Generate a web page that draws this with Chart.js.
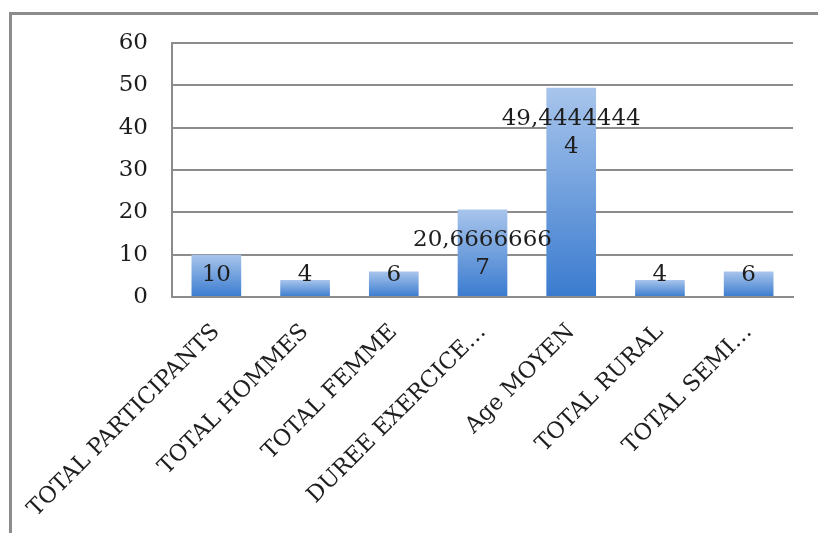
<!DOCTYPE html>
<html>
<head>
<meta charset="utf-8">
<script src="https://cdn.jsdelivr.net/npm/chart.js@4/dist/chart.umd.min.js"></script>
<style>
  html, body { margin: 0; padding: 0; background: #fff; overflow: hidden; }
  canvas { display: block; }
</style>
</head>
<body>
<canvas id="chart" width="818" height="533"></canvas>
<script>
// categories and values
const categories = ['TOTAL PARTICIPANTS', 'TOTAL HOMMES', 'TOTAL FEMME', 'DUREE EXERCICE…', 'Age MOYEN', 'TOTAL RURAL', 'TOTAL SEMI…'];
const values = [10, 4, 6, 20.66666667, 49.44444444, 4, 6];
const yTicks = [0, 10, 20, 30, 40, 50, 60];

const serif = '"DejaVu Serif", "Liberation Serif", serif';
const textColor = '#1e1e1e';
const gridColor = '#8c8c8c';

// excel-like label: comma decimal, wrapped every 10 chars
function labelLines(v) {
  const s = String(v).replace('.', ',');
  const lines = [];
  for (let i = 0; i < s.length; i += 10) lines.push(s.slice(i, i + 10));
  return lines;
}

// grey chart frame, only its left and top edges are visible
const frame = {
  id: 'frame',
  beforeDraw(chart) {
    const ctx = chart.ctx;
    ctx.save();
    ctx.fillStyle = gridColor;
    ctx.fillRect(9, 12, 3, chart.height);
    ctx.fillRect(9, 12, chart.width, 3);
    ctx.restore();
  }
};

const barLabels = {
  id: 'barLabels',
  afterDatasetsDraw(chart) {
    const ctx = chart.ctx;
    const meta = chart.getDatasetMeta(0);
    ctx.save();
    ctx.font = '23px ' + serif;
    ctx.fillStyle = textColor;
    ctx.textAlign = 'center';
    ctx.textBaseline = 'middle';
    const lh = 28;
    meta.data.forEach((bar, i) => {
      const lines = labelLines(values[i]);
      let first = bar.y + 31;
      const last = first + (lines.length - 1) * lh;
      if (last > bar.base - 21) first -= last - (bar.base - 21);
      lines.forEach((t, k) => ctx.fillText(t, bar.x, first + k * lh));
    });
    ctx.restore();
  }
};

new Chart(document.getElementById('chart'), {
  type: 'bar',
  data: {
    labels: categories,
    datasets: [{
      data: values,
      backgroundColor: (c) => {
        const chart = c.chart;
        if (!chart.chartArea || c.dataIndex === undefined) return '#7aa3dd';
        const y = chart.scales.y;
        const top = y.getPixelForValue(values[c.dataIndex]);
        const base = y.getPixelForValue(0);
        const g = chart.ctx.createLinearGradient(0, top, 0, base);
        g.addColorStop(0, '#a8c5ec');
        g.addColorStop(1, '#3a7bcf');
        return g;
      },
      borderWidth: 0,
      barPercentage: 0.56,
      categoryPercentage: 1
    }]
  },
  options: {
    responsive: false,
    animation: false,
    layout: { padding: { top: 43, right: 25, left: 0, bottom: 0 } },
    plugins: { legend: { display: false }, tooltip: { enabled: false } },
    scales: {
      x: {
        grid: { display: false, drawTicks: false },
        border: { display: true, color: gridColor, width: 2 },
        ticks: {
          color: textColor,
          font: { family: serif, size: 22.5 },
          minRotation: 45,
          maxRotation: 45,
          autoSkip: false,
          padding: 22
        },
        afterFit: (s) => { s.height = 236; s.paddingLeft = 0; s.paddingRight = 0; }
      },
      y: {
        min: 0,
        max: 60,
        afterBuildTicks: (s) => { s.ticks = yTicks.map(v => ({ value: v })); },
        grid: { color: gridColor, lineWidth: 2, drawTicks: false },
        border: { display: true, color: gridColor, width: 2 },
        ticks: {
          color: textColor,
          font: { family: serif, size: 23 },
          padding: 24
        },
        afterFit: (s) => { s.width = 172; }
      }
    }
  },
  plugins: [frame, barLabels]
});
</script>
</body>
</html>
